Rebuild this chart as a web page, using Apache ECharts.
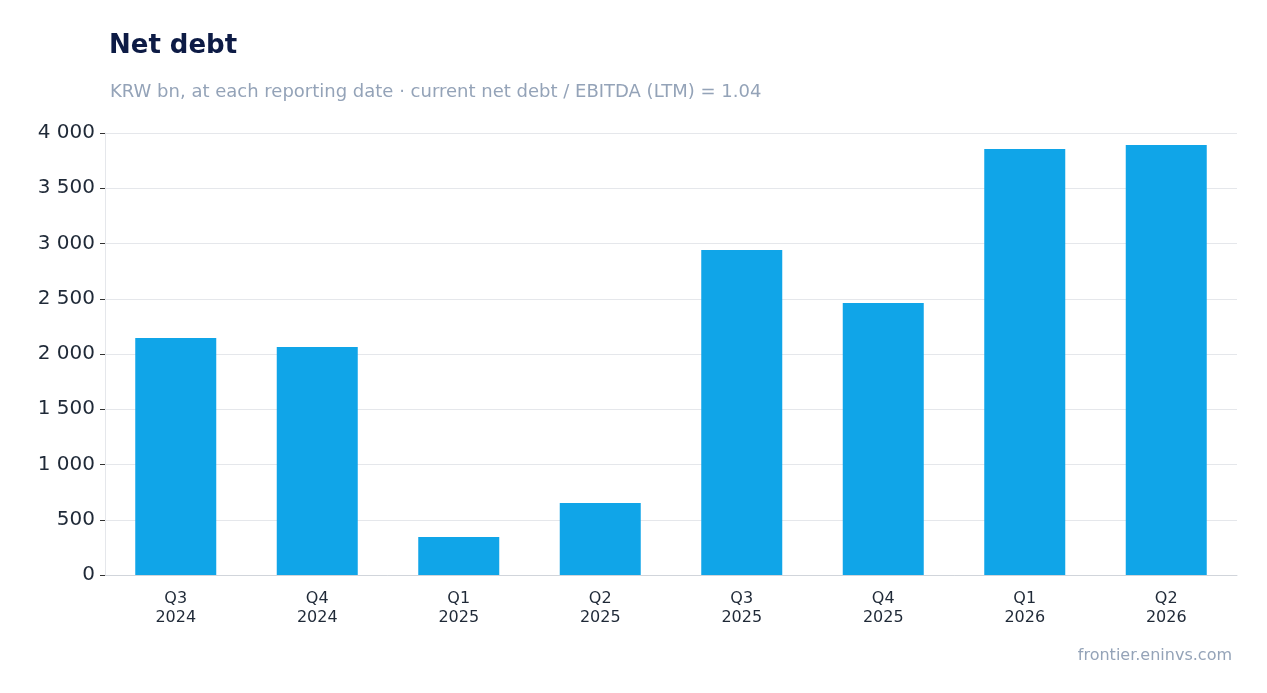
<!DOCTYPE html>
<html><head><meta charset="utf-8">
<script src="https://cdn.jsdelivr.net/npm/echarts@6/dist/echarts.min.js"></script>
<style>html,body{margin:0;padding:0;background:#fff}#c{width:1267px;height:693px}</style>
</head><body><div id="c"></div>
<script>
const categories = ["Q3\n2024","Q4\n2024","Q1\n2025","Q2\n2025","Q3\n2025","Q4\n2025","Q1\n2026","Q2\n2026"];
const netDebt = [2145, 2063, 344, 652, 2941, 2462, 3855, 3891];
const fmt = v => String(v).replace(/\B(?=(\d{3})+(?!\d))/g, ' ');
const chart = echarts.init(document.getElementById('c'));
chart.setOption({
  animation:false,
  textStyle:{fontFamily:'DejaVu Sans'},
  title:[
    {text:'Net debt',left:104,top:28,textStyle:{fontSize:26,fontWeight:'bold',color:'#0d1b45',fontFamily:'DejaVu Sans'}},
    {text:'KRW bn, at each reporting date · current net debt / EBITDA (LTM) = 1.04',left:105,top:78,textStyle:{fontSize:18,fontWeight:'normal',color:'#94a3b8',fontFamily:'DejaVu Sans'}},
    {text:'frontier.eninvs.com',right:30,top:643,textStyle:{fontSize:16,fontWeight:'normal',color:'#94a3b8',fontFamily:'DejaVu Sans'}}
  ],
  grid:{left:105,right:30,top:133,bottom:118},
  xAxis:{type:'category',data:categories,
    axisLine:{lineStyle:{color:'#d1d5db'}},
    axisTick:{alignWithLabel:true,lineStyle:{color:'#333'}},
    axisLabel:{fontSize:16,color:'#1f2937',lineHeight:19,margin:14}},
  yAxis:{type:'value',min:0,max:4000,interval:500,
    axisLine:{show:true,lineStyle:{color:'#e5e7eb'}},
    axisTick:{show:true,length:5,lineStyle:{color:'#333'}},
    splitLine:{lineStyle:{color:'#e5e7eb'}},
    axisLabel:{fontSize:20,color:'#1f2937',formatter:fmt,margin:10}},
  series:[{type:'bar',data:netDebt,barWidth:81,itemStyle:{color:'#10a5e8'}}]
});
</script></body></html>
